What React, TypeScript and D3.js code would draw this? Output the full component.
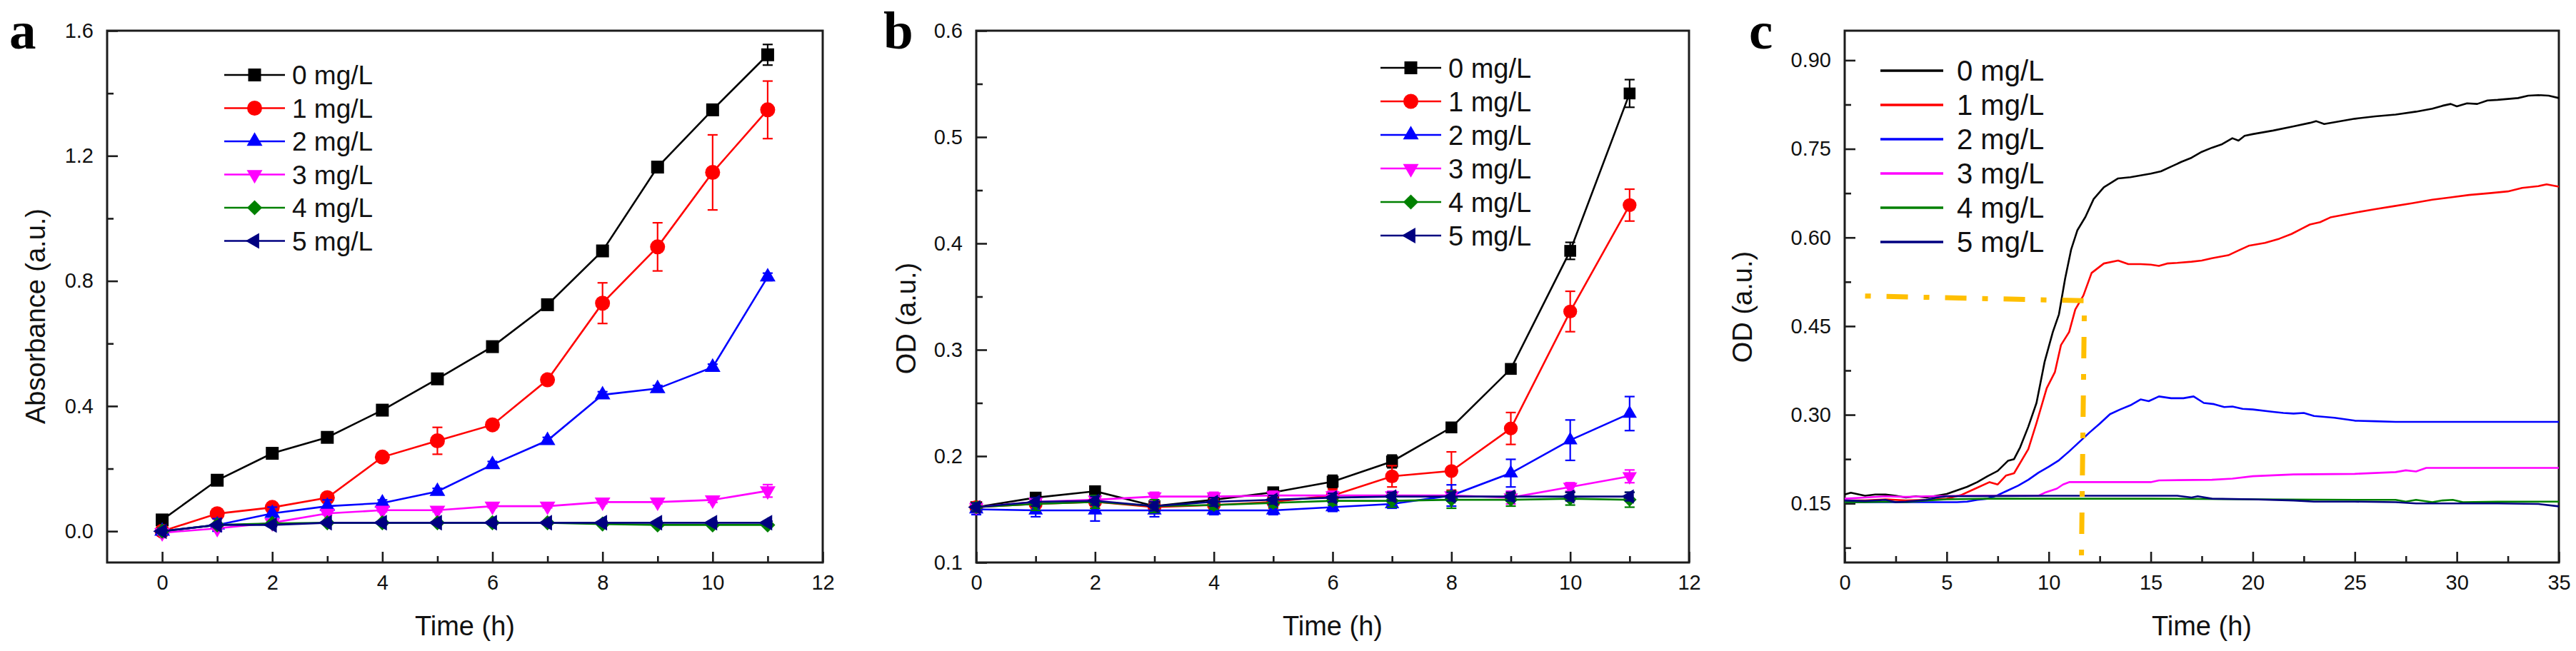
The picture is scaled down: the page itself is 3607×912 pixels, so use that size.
import { useEffect, useRef } from "react"
import * as d3 from "d3"

// shared series info
const concLabels = ["0 mg/L", "1 mg/L", "2 mg/L", "3 mg/L", "4 mg/L", "5 mg/L"]
const concColors = ["#000000", "#ff0000", "#0000ff", "#ff00ff", "#008000", "#000080"]
const concMarkers = ["square", "circle", "triUp", "triDown", "diamond", "triLeft"]

// panel a: absorbance over 0-11 h
const hours = [0, 1, 2, 3, 4, 5, 6, 7, 8, 9, 10, 11]
const absorb0 = [0.036, 0.163, 0.249, 0.300, 0.387, 0.487, 0.590, 0.724, 0.896, 1.164, 1.347, 1.523]
const absorb1 = [0.0, 0.056, 0.076, 0.107, 0.237, 0.289, 0.340, 0.484, 0.729, 0.909, 1.147, 1.347]
const absorb2 = [0.0, 0.020, 0.057, 0.080, 0.090, 0.127, 0.213, 0.290, 0.436, 0.456, 0.524, 0.813]
const absorb3 = [-0.005, 0.009, 0.027, 0.057, 0.067, 0.067, 0.080, 0.080, 0.093, 0.093, 0.100, 0.129]
const absorb4 = [0.0, 0.020, 0.025, 0.027, 0.027, 0.027, 0.027, 0.027, 0.023, 0.020, 0.020, 0.020]
const absorb5 = [0.0, 0.020, 0.020, 0.027, 0.027, 0.027, 0.027, 0.027, 0.027, 0.027, 0.027, 0.027]
const absorbErr0 = [0.01, 0.005, 0.005, 0.005, 0.005, 0.005, 0.005, 0.005, 0.01, 0.01, 0.01, 0.033]
const absorbErr1 = [0.01, 0.01, 0.01, 0.01, 0.01, 0.043, 0.01, 0.01, 0.065, 0.077, 0.12, 0.092]
const absorbErr2 = [0.01, 0.02, 0.02, 0.02, 0.01, 0.01, 0.01, 0.01, 0.01, 0.01, 0.01, 0.012]
const absorbErr3 = [0.005, 0.005, 0.005, 0.005, 0.005, 0.005, 0.005, 0.005, 0.005, 0.005, 0.008, 0.02]
const absorbErr4 = [0.005, 0.005, 0.005, 0.005, 0.005, 0.005, 0.005, 0.005, 0.005, 0.005, 0.005, 0.005]
const absorbErr5 = [0.005, 0.005, 0.005, 0.005, 0.005, 0.005, 0.005, 0.005, 0.005, 0.005, 0.005, 0.005]

// panel b: OD over 0-11 h
const od0 = [0.152, 0.161, 0.167, 0.153, 0.159, 0.166, 0.176, 0.195, 0.227, 0.282, 0.393, 0.541]
const od1 = [0.152, 0.155, 0.157, 0.152, 0.154, 0.157, 0.163, 0.181, 0.186, 0.226, 0.336, 0.436]
const od2 = [0.150, 0.149, 0.149, 0.149, 0.149, 0.149, 0.152, 0.155, 0.163, 0.184, 0.215, 0.240]
const od3 = [0.152, 0.157, 0.159, 0.162, 0.162, 0.163, 0.163, 0.163, 0.163, 0.161, 0.171, 0.181]
const od4 = [0.152, 0.155, 0.157, 0.153, 0.154, 0.156, 0.158, 0.158, 0.159, 0.159, 0.160, 0.159]
const od5 = [0.152, 0.157, 0.158, 0.153, 0.157, 0.159, 0.161, 0.162, 0.162, 0.162, 0.162, 0.162]
const odErr0 = [0.005, 0.004, 0.004, 0.004, 0.004, 0.004, 0.006, 0.006, 0.004, 0.004, 0.008, 0.013]
const odErr1 = [0.005, 0.006, 0.006, 0.006, 0.006, 0.006, 0.006, 0.010, 0.018, 0.015, 0.019, 0.015]
const odErr2 = [0.005, 0.006, 0.010, 0.006, 0.004, 0.004, 0.004, 0.004, 0.010, 0.013, 0.019, 0.016]
const odErr3 = [0.004, 0.004, 0.004, 0.004, 0.004, 0.004, 0.004, 0.004, 0.004, 0.006, 0.004, 0.006]
const odErr4 = [0.004, 0.006, 0.006, 0.006, 0.004, 0.004, 0.004, 0.006, 0.008, 0.006, 0.006, 0.007]
const odErr5 = [0.004, 0.004, 0.004, 0.004, 0.004, 0.004, 0.004, 0.004, 0.004, 0.004, 0.004, 0.004]

// panel c: continuous OD over 0-35 h, [hour, OD]
const long0: [number, number][] = [
  [0, 0.165], [0.3, 0.168], [1, 0.163], [1.5, 0.165], [2, 0.165], [2.5, 0.163], [3, 0.16], [3.5, 0.162],
  [4, 0.16], [4.5, 0.163], [5, 0.166], [5.5, 0.172], [6, 0.178], [6.5, 0.186], [7, 0.196], [7.5, 0.205],
  [8, 0.222], [8.3, 0.225], [8.6, 0.245], [9, 0.28], [9.4, 0.32], [9.8, 0.39], [10.2, 0.44], [10.5, 0.47],
  [10.8, 0.53], [11.1, 0.58], [11.4, 0.612], [11.8, 0.635], [12.2, 0.665], [12.7, 0.685], [13.4, 0.7],
  [14, 0.702], [14.5, 0.705], [15, 0.708], [15.5, 0.712], [16, 0.72], [16.5, 0.728], [17, 0.735],
  [17.5, 0.745], [18, 0.752], [18.5, 0.758], [19, 0.768], [19.3, 0.764], [19.6, 0.772], [20, 0.775],
  [21, 0.781], [22, 0.788], [22.8, 0.794], [23.1, 0.797], [23.5, 0.792], [24, 0.795], [25, 0.801],
  [26, 0.805], [27, 0.808], [28, 0.813], [28.8, 0.818], [29.3, 0.823], [29.7, 0.826], [30, 0.822],
  [30.5, 0.827], [31, 0.826], [31.5, 0.832], [32, 0.833], [33, 0.836], [33.5, 0.84], [34, 0.841],
  [34.5, 0.84], [35, 0.836]
]
const long1: [number, number][] = [
  [0, 0.155], [1, 0.155], [2, 0.157], [3, 0.155], [4, 0.156], [5, 0.158], [5.7, 0.164], [6.4, 0.175],
  [7.1, 0.186], [7.5, 0.182], [7.9, 0.197], [8.3, 0.201], [9, 0.242], [9.4, 0.286], [9.9, 0.345],
  [10.3, 0.372], [10.6, 0.418], [11, 0.44], [11.3, 0.478], [11.7, 0.502], [12.1, 0.54], [12.7, 0.556],
  [13.4, 0.561], [13.9, 0.555], [14.5, 0.555], [15, 0.554], [15.4, 0.552], [15.8, 0.556], [16.3, 0.557],
  [17, 0.559], [17.5, 0.561], [18, 0.565], [18.8, 0.57], [19.3, 0.578], [19.8, 0.586], [20.6, 0.591],
  [21.3, 0.598], [21.9, 0.606], [22.4, 0.615], [22.8, 0.622], [23.3, 0.626], [23.8, 0.634], [24.4, 0.638],
  [25, 0.642], [26, 0.648], [26.9, 0.653], [27.8, 0.658], [28.8, 0.664], [29.7, 0.668], [30.6, 0.672],
  [31.6, 0.675], [32.5, 0.678], [33.2, 0.684], [34, 0.687], [34.4, 0.69], [35, 0.686]
]
const long2: [number, number][] = [
  [0, 0.152], [2, 0.152], [4, 0.152], [5.5, 0.152], [6, 0.153], [6.5, 0.156], [7, 0.158], [7.5, 0.164],
  [8, 0.172], [8.5, 0.18], [9, 0.19], [9.5, 0.202], [10, 0.212], [10.5, 0.223], [11, 0.238], [11.5, 0.254],
  [12, 0.27], [12.5, 0.285], [13, 0.301], [13.5, 0.309], [14, 0.316], [14.5, 0.326], [14.9, 0.323],
  [15.4, 0.331], [16, 0.328], [16.6, 0.328], [17.1, 0.331], [17.6, 0.32], [18.1, 0.318], [18.6, 0.313],
  [19, 0.314], [19.5, 0.31], [20, 0.309], [21, 0.305], [21.5, 0.303], [22, 0.302], [22.5, 0.303],
  [23, 0.298], [24, 0.295], [25, 0.29], [26, 0.289], [27, 0.288], [30, 0.288], [35, 0.288]
]
const long3: [number, number][] = [
  [0, 0.158], [1, 0.16], [2, 0.162], [3, 0.161], [4, 0.162], [6, 0.163], [8, 0.163], [9.5, 0.163],
  [9.8, 0.168], [10.4, 0.175], [10.7, 0.182], [11, 0.186], [13, 0.186], [15, 0.186], [15.4, 0.189],
  [18, 0.19], [19, 0.192], [20, 0.196], [22, 0.199], [25, 0.2], [27, 0.203], [27.5, 0.206], [28, 0.204],
  [28.5, 0.21], [30, 0.21], [35, 0.21]
]
const long4: [number, number][] = [
  [0, 0.152], [1, 0.152], [2, 0.153], [3, 0.152], [4, 0.155], [5, 0.157], [7, 0.158], [10, 0.158],
  [15, 0.158], [20, 0.157], [25, 0.156], [27, 0.156], [27.5, 0.153], [28, 0.156], [28.8, 0.152],
  [29.3, 0.155], [29.8, 0.156], [30.3, 0.152], [32, 0.153], [35, 0.153]
]
const long5: [number, number][] = [
  [0, 0.155], [1, 0.154], [2, 0.156], [2.5, 0.152], [3, 0.153], [4, 0.156], [4.5, 0.16], [5, 0.162],
  [10, 0.163], [15, 0.163], [16.3, 0.163], [17, 0.16], [17.3, 0.162], [18, 0.158], [20, 0.157],
  [22, 0.155], [23, 0.153], [25, 0.153], [27, 0.152], [28, 0.15], [30, 0.15], [32, 0.15], [34, 0.149],
  [35, 0.145]
]
// yellow dash-dot guide (hour, OD)
const guideLine: [number, number][] = [[1.0, 0.501], [11.75, 0.493], [11.6, 0.05]]

// ticks
const shortMajorX = [0, 2, 4, 6, 8, 10, 12]
const shortMinorX = [1, 3, 5, 7, 9, 11]
const absMajorY = [0, 0.4, 0.8, 1.2, 1.6]
const absMinorY = [0.2, 0.6, 1.0, 1.4]
const odMajorY = [0.1, 0.2, 0.3, 0.4, 0.5, 0.6]
const odMinorY = [0.15, 0.25, 0.35, 0.45, 0.55]
const longMajorX = [0, 5, 10, 15, 20, 25, 30, 35]
const longMinorX = [2.5, 7.5, 12.5, 17.5, 22.5, 27.5, 32.5]
const longMajorY = [0.15, 0.3, 0.45, 0.6, 0.75, 0.9]
const longMinorY = [0.075, 0.225, 0.375, 0.525, 0.675, 0.825]

const W = 3607
const H = 912
const SANS = "'Liberation Sans', Arial, sans-serif"
const SERIF = "'Liberation Serif', 'Times New Roman', serif"
const INK = "#1c1c1c"

type Sel = d3.Selection<SVGGElement, unknown, null, undefined>

interface PanelCfg {
  letter: string
  letterX: number
  left: number
  right: number
  top: number
  bottom: number
  xDomain: [number, number]
  yDomain: [number, number]
  xMajor: number[]
  xMinor: number[]
  yMajor: number[]
  yMinor: number[]
  yFmt: string
  yLabel: string
  yLabelX: number
  yLabelY: number
}

function markerPath(shape: string, big: boolean) {
  const k = big ? 1 : 0.92
  if (shape === "square") return { d: d3.symbol(d3.symbolSquare, (18 * k) ** 2)()!, rot: 0 }
  if (shape === "circle") return { d: d3.symbol(d3.symbolCircle, Math.PI * (10.5 * k) ** 2)()!, rot: 0 }
  if (shape === "diamond") return { d: d3.symbol(d3.symbolSquare, (15 * k) ** 2)()!, rot: 45 }
  const tri = d3.symbol(d3.symbolTriangle, ((22 * k) ** 2 * Math.sqrt(3)) / 4)()!
  if (shape === "triUp") return { d: tri, rot: 0 }
  if (shape === "triDown") return { d: tri, rot: 180 }
  return { d: tri, rot: -90 }
}

function drawAxes(g: Sel, cfg: PanelCfg) {
  const x = d3.scaleLinear().domain(cfg.xDomain).range([cfg.left, cfg.right])
  const y = d3.scaleLinear().domain(cfg.yDomain).range([cfg.bottom, cfg.top])

  const styleAxis = (a: Sel) => {
    a.select(".domain").remove()
    a.selectAll("line").attr("stroke", INK).attr("stroke-width", 2.6)
    a.selectAll("text").attr("font-family", SANS).attr("font-size", 29).attr("fill", "#111")
  }

  g.append("g").attr("transform", `translate(0,${cfg.bottom})`)
    .call(d3.axisBottom(x).tickValues(cfg.xMinor).tickSize(-9).tickSizeOuter(0).tickFormat(() => ""))
    .call(styleAxis)
  g.append("g").attr("transform", `translate(0,${cfg.bottom})`)
    .call(d3.axisBottom(x).tickValues(cfg.xMajor).tickSize(-15).tickSizeOuter(0).tickPadding(17).tickFormat(d3.format("d")))
    .call(styleAxis)
  g.append("g").attr("transform", `translate(${cfg.left},0)`)
    .call(d3.axisLeft(y).tickValues(cfg.yMinor).tickSize(-9).tickSizeOuter(0).tickFormat(() => ""))
    .call(styleAxis)
  g.append("g").attr("transform", `translate(${cfg.left},0)`)
    .call(d3.axisLeft(y).tickValues(cfg.yMajor).tickSize(-15).tickSizeOuter(0).tickPadding(19).tickFormat(d3.format(cfg.yFmt)))
    .call(styleAxis)

  g.append("rect")
    .attr("x", cfg.left).attr("y", cfg.top)
    .attr("width", cfg.right - cfg.left).attr("height", cfg.bottom - cfg.top)
    .attr("fill", "none").attr("stroke", INK).attr("stroke-width", 3)

  g.append("text")
    .attr("x", (cfg.left + cfg.right) / 2).attr("y", 890)
    .attr("text-anchor", "middle").attr("font-family", SANS).attr("font-size", 38).attr("fill", "#111")
    .text("Time (h)")
  g.append("text")
    .attr("transform", `translate(${cfg.yLabelX},${cfg.yLabelY}) rotate(-90)`)
    .attr("dy", "0.35em")
    .attr("text-anchor", "middle").attr("font-family", SANS).attr("font-size", 38).attr("fill", "#111")
    .text(cfg.yLabel)
  g.append("text")
    .attr("x", cfg.letterX).attr("y", 68)
    .attr("font-family", SERIF).attr("font-weight", "bold").attr("font-size", 75).attr("fill", "#000")
    .text(cfg.letter)

  return { x, y }
}

function drawMarkerSeries(g: Sel, x: d3.ScaleLinear<number, number>, y: d3.ScaleLinear<number, number>,
  values: number[][], errors: number[][], big: boolean) {
  values.forEach((vals, si) => {
    const color = concColors[si]
    const pts = hours.map((h, i) => ({ h, v: vals[i], e: errors[si][i] }))
    const s = g.append("g")
    s.append("path")
      .datum(pts)
      .attr("fill", "none").attr("stroke", color).attr("stroke-width", 2.6)
      .attr("d", d3.line<{ h: number; v: number }>().x(d => x(d.h)).y(d => y(d.v)))
    const eb = s.selectAll(".eb").data(pts).enter().append("g")
    eb.append("line")
      .attr("x1", d => x(d.h)).attr("x2", d => x(d.h))
      .attr("y1", d => y(d.v - d.e)).attr("y2", d => y(d.v + d.e))
      .attr("stroke", color).attr("stroke-width", 2.2)
    eb.append("line")
      .attr("x1", d => x(d.h) - 7).attr("x2", d => x(d.h) + 7)
      .attr("y1", d => y(d.v + d.e)).attr("y2", d => y(d.v + d.e))
      .attr("stroke", color).attr("stroke-width", 2.2)
    eb.append("line")
      .attr("x1", d => x(d.h) - 7).attr("x2", d => x(d.h) + 7)
      .attr("y1", d => y(d.v - d.e)).attr("y2", d => y(d.v - d.e))
      .attr("stroke", color).attr("stroke-width", 2.2)
    const m = markerPath(concMarkers[si], big)
    s.selectAll(".mk").data(pts).enter().append("path")
      .attr("d", m.d)
      .attr("transform", d => `translate(${x(d.h)},${y(d.v)}) rotate(${m.rot})`)
      .attr("fill", color)
  })
}

function drawLegend(g: Sel, lineX0: number, lineX1: number, textX: number, y0: number, step: number,
  fontSize: number, withMarkers: boolean, lineWidth: number) {
  concLabels.forEach((label, i) => {
    const yy = y0 + i * step
    g.append("line")
      .attr("x1", lineX0).attr("x2", lineX1).attr("y1", yy).attr("y2", yy)
      .attr("stroke", concColors[i]).attr("stroke-width", lineWidth)
    if (withMarkers) {
      const m = markerPath(concMarkers[i], true)
      g.append("path").attr("d", m.d)
        .attr("transform", `translate(${(lineX0 + lineX1) / 2},${yy}) rotate(${m.rot})`)
        .attr("fill", concColors[i])
    }
    g.append("text")
      .attr("x", textX).attr("y", yy).attr("dy", "0.36em")
      .attr("font-family", SANS).attr("font-size", fontSize).attr("fill", "#111")
      .text(label)
  })
}

const panelA: PanelCfg = {
  letter: "a", letterX: 13, left: 150, right: 1152, top: 43, bottom: 788,
  xDomain: [-1, 12], yDomain: [-0.1, 1.6],
  xMajor: shortMajorX, xMinor: shortMinorX, yMajor: absMajorY, yMinor: absMinorY, yFmt: ".1f",
  yLabel: "Absorbance (a.u.)", yLabelX: 50, yLabelY: 443
}
const panelB: PanelCfg = {
  letter: "b", letterX: 1237, left: 1367, right: 2365, top: 43, bottom: 788,
  xDomain: [0, 12], yDomain: [0.1, 0.6],
  xMajor: shortMajorX, xMinor: shortMinorX, yMajor: odMajorY, yMinor: odMinorY, yFmt: ".1f",
  yLabel: "OD (a.u.)", yLabelX: 1269, yLabelY: 446
}
const panelC: PanelCfg = {
  letter: "c", letterX: 2449, left: 2583, right: 3583, top: 43, bottom: 788,
  xDomain: [0, 35], yDomain: [0.05, 0.95],
  xMajor: longMajorX, xMinor: longMinorX, yMajor: longMajorY, yMinor: longMinorY, yFmt: ".2f",
  yLabel: "OD (a.u.)", yLabelX: 2440, yLabelY: 430
}

export default function App() {
  const svgRef = useRef<SVGSVGElement>(null)

  useEffect(() => {
    if (!svgRef.current) return
    const svg = d3.select(svgRef.current)
    svg.selectAll("*").remove()
    svg.append("rect").attr("width", W).attr("height", H).attr("fill", "#fff")

    // panel a
    const ga = svg.append("g") as unknown as Sel
    const sa = drawAxes(ga, panelA)
    drawMarkerSeries(ga, sa.x, sa.y,
      [absorb0, absorb1, absorb2, absorb3, absorb4, absorb5],
      [absorbErr0, absorbErr1, absorbErr2, absorbErr3, absorbErr4, absorbErr5], true)
    drawLegend(ga, 314, 399, 409, 105, 46.5, 37, true, 2.6)

    // panel b
    const gb = svg.append("g") as unknown as Sel
    const sb = drawAxes(gb, panelB)
    drawMarkerSeries(gb, sb.x, sb.y,
      [od0, od1, od2, od3, od4, od5],
      [odErr0, odErr1, odErr2, odErr3, odErr4, odErr5], false)
    drawLegend(gb, 1933, 2018, 2028, 95, 47, 38, true, 2.6)

    // panel c
    const gc = svg.append("g") as unknown as Sel
    const sc = drawAxes(gc, panelC)
    const curve = d3.line<[number, number]>().x(d => sc.x(d[0])).y(d => sc.y(d[1]))
    ;[long0, long1, long2, long3, long4, long5].forEach((pts, i) => {
      gc.append("path").datum(pts)
        .attr("fill", "none").attr("stroke", concColors[i]).attr("stroke-width", 2.6)
        .attr("stroke-linejoin", "round")
        .attr("d", curve)
    })
    gc.append("path").datum(guideLine)
      .attr("fill", "none").attr("stroke", "#ffbf00").attr("stroke-width", 7)
      .attr("stroke-dasharray", "8,22,30,22")
      .attr("d", curve)
    drawLegend(gc, 2633, 2721, 2740, 99, 48, 40, false, 3.4)
  }, [])

  return (
    <svg
      ref={svgRef}
      width={W}
      height={H}
      style={{ position: "absolute", left: 0, top: 0, display: "block" }}
    />
  )
}
